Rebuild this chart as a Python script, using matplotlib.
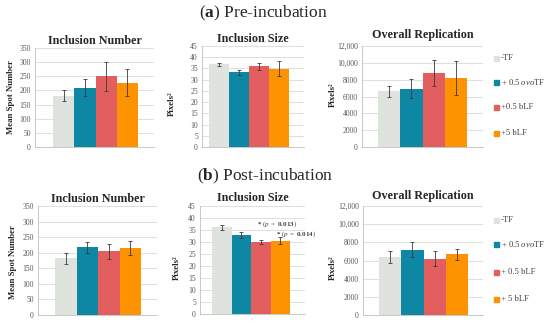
import matplotlib
matplotlib.use("Agg")
import matplotlib.pyplot as plt
import numpy as np

plt.rcParams['font.family'] = ['Liberation Serif', 'DejaVu Serif']
plt.rcParams['mathtext.fontset'] = 'custom'
plt.rcParams['mathtext.rm'] = 'Liberation Serif'
plt.rcParams['mathtext.it'] = 'Liberation Serif:italic'
plt.rcParams['mathtext.bf'] = 'Liberation Serif:bold'

groups = ["-TF", "+ 0.5 ovoTF", "+0.5 bLF", "+5 bLF"]
legend_a = ["-TF", r"+ 0.5 $\it{ovo}$TF", "+0.5 bLF", "+5 bLF"]
legend_b = ["-TF", r"+ 0.5 $\it{ovo}$TF", "+ 0.5 bLF", "+ 5 bLF"]
colors = ["#dfe3de", "#0e87a4", "#e35f5f", "#fd9300"]

# (a) pre-incubation
pre_number = [182, 210, 250, 228]
pre_number_err = [20, 30, 51, 46]
pre_size = [36.8, 33.2, 35.9, 34.9]
pre_size_err = [0.6, 0.9, 1.7, 3.2]
pre_repl = [6600, 6950, 8750, 8200]
pre_repl_err = [700, 1150, 1550, 2050]

# (b) post-incubation
post_number = [182, 217, 204, 215]
post_number_err = [17, 17, 25, 22]
post_size = [36.2, 32.9, 30.0, 30.6]
post_size_err = [1.0, 1.4, 0.7, 1.4]
post_repl = [6400, 7200, 6200, 6700]
post_repl_err = [650, 850, 850, 600]

p_notes = ["0.013", "0.014"]

W, H = 550, 325
fig = plt.figure(figsize=(W / 100, H / 100), dpi=100)


def add_ax(x0, x1, ytop, ybot):
    return fig.add_axes([x0 / W, 1 - ybot / H, (x1 - x0) / W, (ybot - ytop) / H])


def fmt_tick(v):
    v = int(v)
    return f"{v:,}" if v >= 10000 else str(v)


def panel(ax, vals, errs, ymax, step, bar_px, ax_px, title, title_y):
    x = np.arange(len(vals))
    ax.bar(x, vals, width=1.0, color=colors, zorder=3)
    ax.errorbar(x, vals, yerr=errs, fmt='none', ecolor='#3a3a3a',
                elinewidth=0.6, capsize=1.6, capthick=0.6, zorder=4)
    unit = (bar_px[1] - bar_px[0]) / len(vals)
    ax.set_xlim(-0.5 - (bar_px[0] - ax_px[0]) / unit,
                len(vals) - 0.5 + (ax_px[1] - bar_px[1]) / unit)
    ax.set_ylim(0, ymax)
    ticks = np.arange(0, ymax + step / 2, step)
    ax.set_yticks(ticks)
    ax.set_yticklabels([fmt_tick(t) for t in ticks])
    ax.tick_params(axis='y', length=0, labelsize=5.5, colors='#595959', pad=3)
    ax.set_xticks([])
    ax.grid(axis='y', color='#d9d9d9', lw=0.6, zorder=0)
    for s in ['top', 'right']:
        ax.spines[s].set_visible(False)
    ax.spines['left'].set_color('#bfbfbf')
    ax.spines['bottom'].set_color('#bfbfbf')
    ax.spines['left'].set_linewidth(0.6)
    ax.spines['bottom'].set_linewidth(0.6)
    ax.set_facecolor('white')
    fig.text((ax_px[0] + ax_px[1]) / 2 / W, 1 - title_y / H, title,
             ha='center', va='center', fontsize=8.7, fontweight='bold',
             color='#262626')


def ylab(x, y, s):
    fig.text(x / W, 1 - y / H, s, rotation=90, ha='center', va='center',
             fontsize=6.3, fontweight='bold', color='#262626')


def legend(xsq, ys, labels):
    for c, y, lab in zip(colors, ys, labels):
        fig.patches.append(plt.Rectangle(((xsq - 2.5) / W, 1 - (y + 2.5) / H),
                                         5 / W, 5 / H, color=c,
                                         transform=fig.transFigure, figure=fig))
        fig.text((xsq + 5) / W, 1 - y / H, lab, ha='left', va='center',
                 fontsize=6.2, color='#404040')


# headings
fig.text(263 / W, 1 - 13 / H, r"($\bf{a}$) Pre-incubation", ha='center',
         va='center', fontsize=12.5, color='#262626')
fig.text(265 / W, 1 - 176 / H, r"($\bf{b}$) Post-incubation", ha='center',
         va='center', fontsize=12.5, color='#262626')

# row (a)
a1 = add_ax(35, 154, 48, 147)
panel(a1, pre_number, pre_number_err, 350, 50, (53, 138), (35, 154),
      "Inclusion Number", 41)
a2 = add_ax(202, 304, 46, 147)
panel(a2, pre_size, pre_size_err, 45, 5, (209, 289), (202, 304),
      "Inclusion Size", 39)
a3 = add_ax(362, 483, 46, 147)
panel(a3, pre_repl, pre_repl_err, 12000, 2000, (378, 467), (362, 483),
      "Overall Replication", 35)
ylab(11, 97, "Mean Spot Number")
ylab(172, 104, "Pixels²")
ylab(333, 95, "Pixels²")
legend(496, [58, 82, 107, 133], legend_a)

# row (b)
b1 = add_ax(38, 157, 206, 315)
panel(b1, post_number, post_number_err, 350, 50, (55, 141), (38, 157),
      "Inclusion Number", 199)
b2 = add_ax(200, 305, 206, 314)
panel(b2, post_size, post_size_err, 45, 5, (212, 290), (200, 305),
      "Inclusion Size", 198)
b3 = add_ax(363, 483, 206, 315)
panel(b3, post_repl, post_repl_err, 12000, 2000, (379, 468), (363, 483),
      "Overall Replication", 196)
ylab(13, 262, "Mean Spot Number")
ylab(177, 268, "Pixels²")
ylab(333, 268, "Pixels²")
legend(496, [220, 244, 272, 299], legend_b)

for (px, py), pv in zip([(257, 224.5), (276, 234)], p_notes):
    fig.text(px / W, 1 - py / H,
             r"$\mathbf{*}\ (\mathit{p}\ =\ \mathbf{" + pv + r"})$",
             ha='left', va='center', fontsize=5, color='#404040')

fig.savefig("out.png", dpi=100, facecolor='white')
